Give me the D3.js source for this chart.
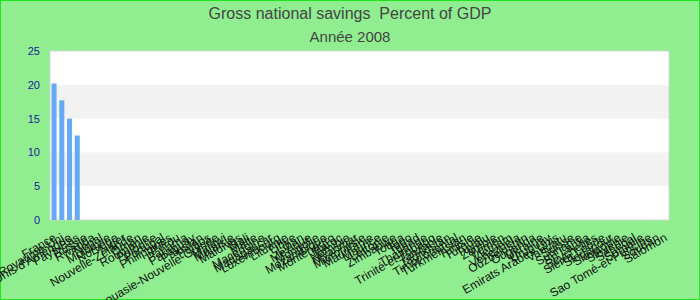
<!DOCTYPE html>
<meta charset="utf-8">
<style>
  body { margin: 0; }
  svg { display: block; font-family: "Liberation Sans", Arial, sans-serif; }
  .title { font-size: 16px; fill: #444; white-space: pre; }
  .ytick text { font-size: 11px; fill: #1a1a99; }
  .xlab { font-size: 12px; fill: #111; }
</style>
<body>
<svg id="chart" width="700" height="300"></svg>
<script src="https://d3js.org/d3.v7.min.js"></script>
<script>
  // categories (country names) and values, only the first four have data
  var countries = ["France", "Royaume-Uni", "Etats-Unis d'Amérique", "Pays-Bas", "Russie", "Rwanda", "Népal",
    "Moldavie", "Norvège", "Niger", "Nouvelle-Zélande", "Oman", "Roumanie", "Pologne", "Portugal",
    "Philippines", "Pérou", "Panama", "Paraguay", "Pakistan", "Palaos", "Papouasie-Nouvelle-Guinée",
    "Malawi", "Malaisie", "Maldives", "Mali", "Malte", "Macédoine", "Madagascar", "Luxembourg",
    "Lituanie", "Libye", "Liban", "Mexique", "Mongolie", "Mozambique", "Monténégro", "Maroc",
    "Namibie", "Myanmar", "Micronésie", "Mauritanie", "Maurice", "Lettonie", "Zimbabwe", "Tonga",
    "Togo", "Tchad", "Thaïlande", "Trinité-et-Tobago", "Tanzanie", "Tadjikistan", "Timor oriental",
    "Turkménistan", "Tunisie", "Turquie", "Tuvalu", "Zambie", "Yémen", "Vietnam", "Venezuela",
    "Ouzbékistan", "Ouganda", "Ukraine", "Uruguay", "Emirats Arabes Unis", "Vanuatu", "Suisse",
    "Suriname", "Sri Lanka", "Seychelles", "Sierra Leone", "Singapour", "Slovaquie", "Slovénie",
    "Sénégal", "Somalie", "Sao Tomé-et-Principe", "Soudan", "Salomon"];
  var savings = [20.2, 17.7, 15.0, 12.5];
  var yTicks = [0, 5, 10, 15, 20, 25];

  var title = "Gross national savings  Percent of GDP";
  var subtitle = "Année 2008";

  var svg = d3.select("#chart"),
    width = +svg.attr("width"),
    height = +svg.attr("height");

  var margin = { top: 51, right: 31, bottom: 80, left: 50 };
  var innerW = width - margin.left - margin.right,
    innerH = height - margin.top - margin.bottom;

  // background + border
  svg.append("rect")
    .attr("x", 0.5).attr("y", 0.5)
    .attr("width", width - 1).attr("height", height - 1)
    .attr("fill", "#90ee90")
    .attr("stroke", "#1ee61e");

  svg.append("text").attr("class", "title")
    .attr("x", width / 2).attr("y", 19)
    .attr("text-anchor", "middle")
    .text(title);
  svg.append("text").attr("class", "title")
    .attr("x", width / 2).attr("y", 42)
    .attr("text-anchor", "middle")
    .style("font-size", "15px")
    .text(subtitle);

  var g = svg.append("g").attr("transform", "translate(" + margin.left + "," + margin.top + ")");

  var x = d3.scaleBand()
    .domain(countries)
    .range([0, innerW])
    .paddingInner(0.35)
    .paddingOuter(0.2);

  var y = d3.scaleLinear()
    .domain([0, 25])
    .range([innerH, 0]);

  // plot area with alternating bands
  g.append("rect")
    .attr("width", innerW).attr("height", innerH)
    .attr("fill", "#fff");
  g.selectAll("rect.band")
    .data(d3.pairs(yTicks).filter(function (d, i) { return i % 2 == 1; }))
    .enter().append("rect")
    .attr("class", "band")
    .attr("x", 0)
    .attr("y", function (d) { return y(d[1]); })
    .attr("width", innerW)
    .attr("height", function (d) { return y(d[0]) - y(d[1]); })
    .attr("fill", "#f2f2f2");
  g.append("rect")
    .attr("width", innerW).attr("height", innerH)
    .attr("fill", "none")
    .attr("stroke", "#d4d4d4");

  // y axis: labels only
  var yAxis = g.append("g")
    .attr("class", "ytick")
    .call(d3.axisLeft(y).tickValues(yTicks).tickSize(0).tickPadding(10));
  yAxis.select(".domain").remove();

  // bars
  g.selectAll("rect.bar")
    .data(savings)
    .enter().append("rect")
    .attr("class", "bar")
    .attr("x", function (d, i) { return x(countries[i]); })
    .attr("y", function (d) { return y(d); })
    .attr("width", x.bandwidth())
    .attr("height", function (d) { return innerH - y(d); })
    .attr("fill", "#66aaf5");

  // x labels, rotated
  g.append("g")
    .selectAll("text")
    .data(countries)
    .enter().append("text")
    .attr("class", "xlab")
    .attr("text-anchor", "end")
    .attr("transform", function (d) {
      return "translate(" + (x(d) + x.bandwidth() / 2 + 3) + "," + (innerH + 20) + ") rotate(-30)";
    })
    .text(function (d) { return d; });
</script>
</body>
